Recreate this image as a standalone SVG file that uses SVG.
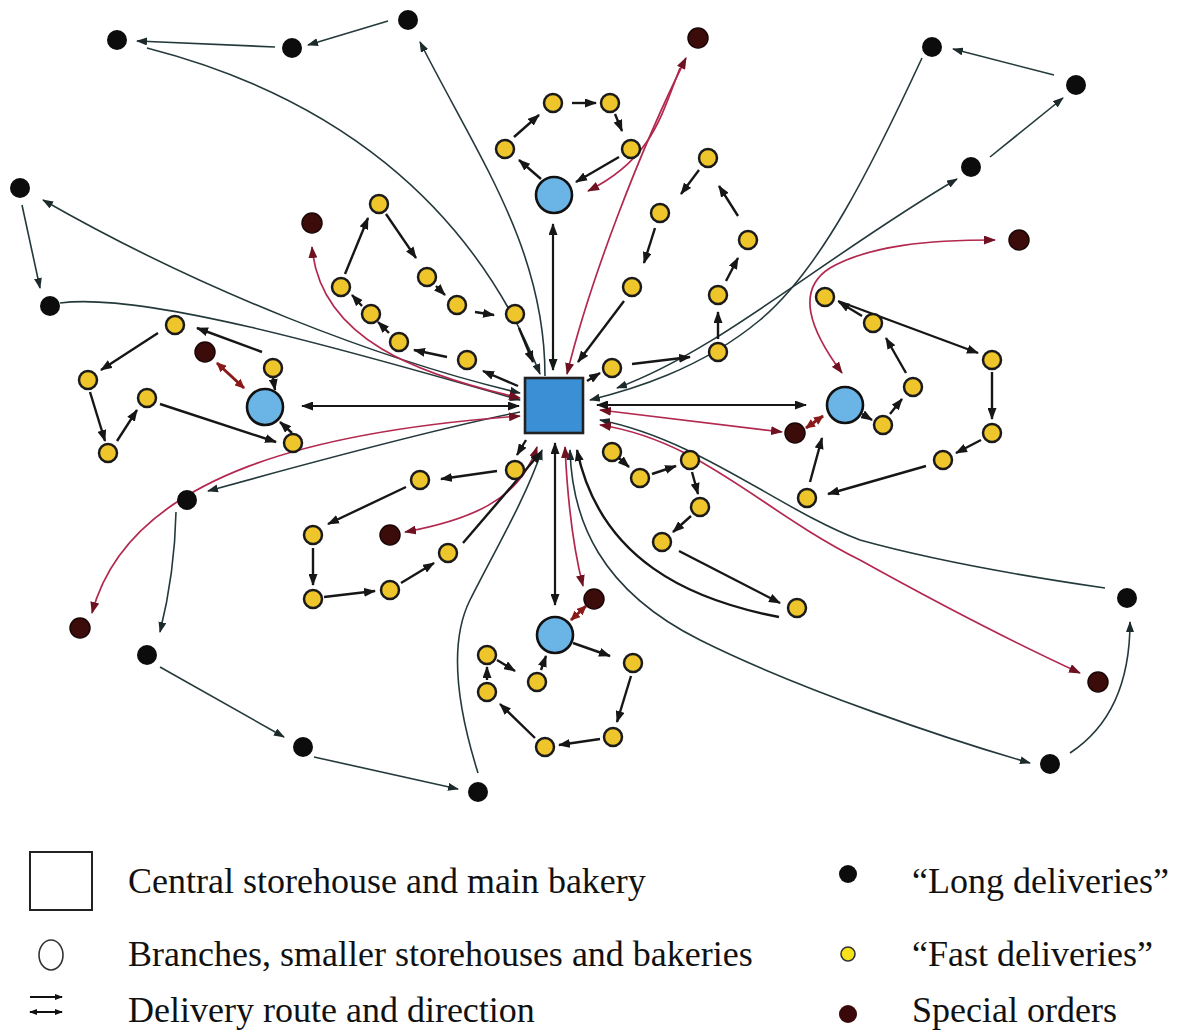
<svg xmlns="http://www.w3.org/2000/svg" width="1188" height="1032" viewBox="0 0 1188 1032">
<style>
.k{fill:none;stroke:#161616;stroke-width:2.4;marker-end:url(#ak)}
.kk{fill:none;stroke:#161616;stroke-width:2.2;marker-start:url(#ak);marker-end:url(#ak)}
.t{fill:none;stroke:#24393b;stroke-width:1.6}
.te{marker-end:url(#at)}
.ts{marker-start:url(#at)}
.r{fill:none;stroke:#b3284f;stroke-width:1.7;marker-start:url(#ar);marker-end:url(#ar)}
.rd{fill:none;stroke:#8a1a1a;stroke-width:3;marker-start:url(#ad);marker-end:url(#ad)}
.y{fill:#efc52c;stroke:#1a1a1a;stroke-width:2.5}
.b{fill:#0c0c0c}
.s{fill:#3c0c0a;stroke:#1a0505;stroke-width:1.5}
.br{fill:#6ab4e6;stroke:#111;stroke-width:2.6}
.lg{font-family:"Liberation Serif","Times New Roman",serif;font-size:36px;fill:#111}
</style>
<defs>
<marker id="ak" viewBox="0 0 12 9" refX="11" refY="4.5" markerWidth="12" markerHeight="9" markerUnits="userSpaceOnUse" orient="auto-start-reverse"><path d="M0,0 L12,4.5 L0,9 z" fill="#161616"/></marker>
<marker id="at" viewBox="0 0 11 8" refX="10" refY="4" markerWidth="11" markerHeight="8" markerUnits="userSpaceOnUse" orient="auto-start-reverse"><path d="M0,0 L11,4 L0,8 z" fill="#1c2a2c"/></marker>
<marker id="ar" viewBox="0 0 12 9" refX="11" refY="4.5" markerWidth="12" markerHeight="9" markerUnits="userSpaceOnUse" orient="auto-start-reverse"><path d="M0,0 L12,4.5 L0,9 z" fill="#6e1222"/></marker>
<marker id="ad" viewBox="0 0 10 9" refX="9" refY="4.5" markerWidth="10" markerHeight="9" markerUnits="userSpaceOnUse" orient="auto-start-reverse"><path d="M0,0 L10,4.5 L0,9 z" fill="#8a1a1a"/></marker>
<marker id="lk" viewBox="0 0 8 6" refX="7" refY="3" markerWidth="8" markerHeight="6" markerUnits="userSpaceOnUse" orient="auto-start-reverse"><path d="M0,0 L8,3 L0,6 z" fill="#111"/></marker>
</defs>
<rect width="1188" height="1032" fill="#fff"/>
<g id="connectors">
<path class="t te" d="M275,47 L137,41"/>
<path class="t te" d="M388,21 L308,45"/>
<path class="t te" d="M147,48 C330,95 470,200 540,374"/>
<path class="t ts" d="M420,42 C480,160 545,250 545,376"/>
<path class="t ts te" d="M43,200 C200,290 380,360 520,393"/>
<path class="t te" d="M22,205 L40,288"/>
<path class="t te" d="M60,303 C140,292 330,345 520,400"/>
<path class="t te" d="M520,412 C440,428 320,460 208,491"/>
<path class="t te" d="M176,512 C175,560 168,600 160,632"/>
<path class="t te" d="M160,667 L284,737"/>
<path class="t te" d="M314,757 L458,789"/>
<path class="t te" d="M478,773 C455,700 450,640 470,600 C495,550 525,500 542,450"/>
<path class="t ts te" d="M570,450 C572,520 600,590 700,640 C800,690 950,740 1030,763"/>
<path class="t te" d="M1070,753 C1105,730 1130,690 1130,622"/>
<path class="t te" d="M1105,588 C1050,580 950,565 860,540 C780,510 700,440 600,420"/>
<path class="t ts te" d="M617,388 C720,350 820,260 957,179"/>
<path class="t te" d="M990,157 L1063,98"/>
<path class="t te" d="M1054,75 L953,49"/>
<path class="t te" d="M922,58 C870,170 820,270 760,320 C700,370 630,390 590,400"/>
<path class="r" d="M567,374 C590,280 640,150 686,58"/>
<path class="r" style="marker-start:none" d="M680,68 C660,120 650,160 588,191"/>
<path class="r" d="M520,398 C420,375 320,340 312,247"/>
<path class="r" d="M520,416 C330,430 130,470 92,613"/>
<path class="r" d="M537,447 C520,500 470,520 405,532"/>
<path class="r" d="M565,447 C568,510 575,555 583,586"/>
<path class="r" d="M600,410 L782,432"/>
<path class="r" d="M600,425 C700,440 760,510 860,560 C950,610 1030,650 1080,673"/>
<path class="r" d="M842,373 C810,330 795,290 830,268 C870,245 930,240 995,240"/>
<path class="rd" d="M217,363 L244,388"/>
<path class="rd" d="M806,428 L823,416"/>
<path class="rd" d="M571,620 L586,606"/>
<path class="k" d="M541,179 L519,160"/>
<path class="k" d="M514,137 L539,115"/>
<path class="k" d="M572,103 L596,103"/>
<path class="k" d="M615,114 L622,131"/>
<path class="k" d="M619,157 L576,182"/>
<path class="kk" d="M553,224 L553,370"/>
<path class="k" d="M587,381 L600,373"/>
<path class="k" d="M632,364 L690,357"/>
<path class="k" d="M718,339 L718,312"/>
<path class="k" d="M726,281 L738,258"/>
<path class="k" d="M738,216 L719,186"/>
<path class="k" d="M699,170 L681,194"/>
<path class="k" d="M655,228 L644,263"/>
<path class="k" d="M624,301 L578,362"/>
<path class="k" d="M518,386 L483,371"/>
<path class="k" d="M447,357 L414,350"/>
<path class="k" d="M389,333 L378,322"/>
<path class="k" d="M362,306 L352,295"/>
<path class="k" d="M345,274 L368,218"/>
<path class="k" d="M386,214 L416,258"/>
<path class="k" d="M436,286 L445,295"/>
<path class="k" d="M475,312 L494,315"/>
<path class="k" d="M519,328 L533,362"/>
<path class="k" d="M262,352 L197,328"/>
<path class="k" d="M158,333 L101,370"/>
<path class="k" d="M90,392 L105,441"/>
<path class="k" d="M117,441 L137,410"/>
<path class="k" d="M160,404 L276,442"/>
<path class="k" d="M273,378 L275,390"/>
<path class="k" d="M292,433 L280,422"/>
<path class="kk" d="M302,406 L519,406"/>
<path class="kk" d="M597,405 L806,405"/>
<path class="k" d="M862,414 L872,420"/>
<path class="k" d="M890,414 L902,399"/>
<path class="k" d="M906,373 L886,338"/>
<path class="k" d="M862,316 L839,302"/>
<path class="k" d="M838,301 L978,353"/>
<path class="k" d="M992,372 L992,419"/>
<path class="k" d="M981,440 L956,453"/>
<path class="k" d="M926,466 L828,494"/>
<path class="k" d="M810,482 L822,438"/>
<path class="k" d="M526,440 L517,455"/>
<path class="k" d="M497,471 L441,479"/>
<path class="k" d="M406,487 L328,524"/>
<path class="k" d="M313,548 L313,585"/>
<path class="k" d="M324,597 L375,591"/>
<path class="k" d="M401,583 L434,563"/>
<path class="k" d="M463,543 L541,452"/>
<path class="k" d="M619,458 L629,467"/>
<path class="k" d="M652,474 L676,466"/>
<path class="k" d="M692,472 L698,494"/>
<path class="k" d="M691,516 L673,532"/>
<path class="k" d="M679,551 L780,603"/>
<path class="k" d="M779,617 C690,600 600,560 577,450"/>
<path class="kk" d="M555,443 L555,605"/>
<path class="k" d="M573,643 L610,656"/>
<path class="k" d="M631,676 L617,722"/>
<path class="k" d="M600,739 L559,745"/>
<path class="k" d="M535,738 L500,704"/>
<path class="k" d="M487,680 L487,667"/>
<path class="k" d="M497,660 L515,671"/>
<path class="k" d="M541,670 L546,656"/>
</g>
<g id="central"><rect x="525" y="378" width="58" height="55" fill="#3b8fd5" stroke="#222" stroke-width="2.6"/></g>
<g id="branch-top"><circle class="br" cx="554" cy="195" r="18"/></g>
<g id="branch-left"><circle class="br" cx="265" cy="407" r="18"/></g>
<g id="branch-right"><circle class="br" cx="845" cy="405" r="18"/></g>
<g id="branch-bottom"><circle class="br" cx="555" cy="635" r="18"/></g>
<g id="long-1"><circle class="b" cx="117" cy="40" r="10"/></g>
<g id="long-2"><circle class="b" cx="292" cy="48" r="10"/></g>
<g id="long-3"><circle class="b" cx="408" cy="20" r="10"/></g>
<g id="long-4"><circle class="b" cx="20" cy="188" r="10"/></g>
<g id="long-5"><circle class="b" cx="50" cy="306" r="10"/></g>
<g id="long-6"><circle class="b" cx="932" cy="47" r="10"/></g>
<g id="long-7"><circle class="b" cx="1076" cy="85" r="10"/></g>
<g id="long-8"><circle class="b" cx="971" cy="167" r="10"/></g>
<g id="long-9"><circle class="b" cx="187" cy="500" r="10"/></g>
<g id="long-10"><circle class="b" cx="147" cy="655" r="10"/></g>
<g id="long-11"><circle class="b" cx="303" cy="747" r="10"/></g>
<g id="long-12"><circle class="b" cx="478" cy="792" r="10"/></g>
<g id="long-13"><circle class="b" cx="1127" cy="598" r="10"/></g>
<g id="long-14"><circle class="b" cx="1050" cy="764" r="10"/></g>
<g id="special-1"><circle class="s" cx="698" cy="38" r="10"/></g>
<g id="special-2"><circle class="s" cx="312" cy="223" r="10"/></g>
<g id="special-3"><circle class="s" cx="1019" cy="240" r="10"/></g>
<g id="special-4"><circle class="s" cx="205" cy="352" r="10"/></g>
<g id="special-5"><circle class="s" cx="795" cy="433" r="10"/></g>
<g id="special-6"><circle class="s" cx="390" cy="535" r="10"/></g>
<g id="special-7"><circle class="s" cx="80" cy="628" r="10"/></g>
<g id="special-8"><circle class="s" cx="594" cy="599" r="10"/></g>
<g id="special-9"><circle class="s" cx="1098" cy="682" r="10"/></g>
<g id="fast-t1"><circle class="y" cx="553" cy="103" r="9"/></g>
<g id="fast-t2"><circle class="y" cx="610" cy="103" r="9"/></g>
<g id="fast-t3"><circle class="y" cx="631" cy="149" r="9"/></g>
<g id="fast-t4"><circle class="y" cx="505" cy="149" r="9"/></g>
<g id="fast-ur1"><circle class="y" cx="708" cy="158" r="9"/></g>
<g id="fast-ur2"><circle class="y" cx="660" cy="213" r="9"/></g>
<g id="fast-ur3"><circle class="y" cx="748" cy="240" r="9"/></g>
<g id="fast-ur4"><circle class="y" cx="632" cy="287" r="9"/></g>
<g id="fast-ur5"><circle class="y" cx="718" cy="295" r="9"/></g>
<g id="fast-ur6"><circle class="y" cx="718" cy="352" r="9"/></g>
<g id="fast-ur7"><circle class="y" cx="612" cy="368" r="9"/></g>
<g id="fast-ul1"><circle class="y" cx="379" cy="204" r="9"/></g>
<g id="fast-ul2"><circle class="y" cx="341" cy="287" r="9"/></g>
<g id="fast-ul3"><circle class="y" cx="371" cy="314" r="9"/></g>
<g id="fast-ul4"><circle class="y" cx="399" cy="342" r="9"/></g>
<g id="fast-ul5"><circle class="y" cx="467" cy="360" r="9"/></g>
<g id="fast-ul6"><circle class="y" cx="427" cy="277" r="9"/></g>
<g id="fast-ul7"><circle class="y" cx="457" cy="305" r="9"/></g>
<g id="fast-ul8"><circle class="y" cx="515" cy="314" r="9"/></g>
<g id="fast-l1"><circle class="y" cx="175" cy="325" r="9"/></g>
<g id="fast-l2"><circle class="y" cx="88" cy="380" r="9"/></g>
<g id="fast-l3"><circle class="y" cx="147" cy="398" r="9"/></g>
<g id="fast-l4"><circle class="y" cx="108" cy="453" r="9"/></g>
<g id="fast-l5"><circle class="y" cx="273" cy="368" r="9"/></g>
<g id="fast-l6"><circle class="y" cx="293" cy="443" r="9"/></g>
<g id="fast-r1"><circle class="y" cx="825" cy="297" r="9"/></g>
<g id="fast-r2"><circle class="y" cx="873" cy="323" r="9"/></g>
<g id="fast-r3"><circle class="y" cx="913" cy="387" r="9"/></g>
<g id="fast-r4"><circle class="y" cx="883" cy="425" r="9"/></g>
<g id="fast-r5"><circle class="y" cx="992" cy="360" r="9"/></g>
<g id="fast-r6"><circle class="y" cx="992" cy="433" r="9"/></g>
<g id="fast-r7"><circle class="y" cx="943" cy="460" r="9"/></g>
<g id="fast-r8"><circle class="y" cx="807" cy="498" r="9"/></g>
<g id="fast-ll1"><circle class="y" cx="515" cy="470" r="9"/></g>
<g id="fast-ll2"><circle class="y" cx="420" cy="480" r="9"/></g>
<g id="fast-ll3"><circle class="y" cx="313" cy="535" r="9"/></g>
<g id="fast-ll4"><circle class="y" cx="313" cy="599" r="9"/></g>
<g id="fast-ll5"><circle class="y" cx="390" cy="590" r="9"/></g>
<g id="fast-ll6"><circle class="y" cx="448" cy="553" r="9"/></g>
<g id="fast-lr1"><circle class="y" cx="612" cy="452" r="9"/></g>
<g id="fast-lr2"><circle class="y" cx="640" cy="478" r="9"/></g>
<g id="fast-lr3"><circle class="y" cx="690" cy="460" r="9"/></g>
<g id="fast-lr4"><circle class="y" cx="700" cy="507" r="9"/></g>
<g id="fast-lr5"><circle class="y" cx="662" cy="542" r="9"/></g>
<g id="fast-lr6"><circle class="y" cx="797" cy="608" r="9"/></g>
<g id="fast-b1"><circle class="y" cx="633" cy="663" r="9"/></g>
<g id="fast-b2"><circle class="y" cx="613" cy="737" r="9"/></g>
<g id="fast-b3"><circle class="y" cx="545" cy="747" r="9"/></g>
<g id="fast-b4"><circle class="y" cx="487" cy="655" r="9"/></g>
<g id="fast-b5"><circle class="y" cx="487" cy="692" r="9"/></g>
<g id="fast-b6"><circle class="y" cx="537" cy="682" r="9"/></g>
<g id="legend">
<rect x="30" y="852" width="62" height="58" fill="none" stroke="#222" stroke-width="2"/>
<text class="lg" x="128" y="893">Central storehouse and main bakery</text>
<ellipse cx="51" cy="955" rx="12" ry="15" fill="none" stroke="#333" stroke-width="1.6"/>
<text class="lg" x="128" y="966">Branches, smaller storehouses and bakeries</text>
<path d="M30,997 L62,997" stroke="#111" stroke-width="2" marker-end="url(#lk)"/>
<path d="M30,1012 L62,1012" stroke="#111" stroke-width="2" marker-start="url(#lk)" marker-end="url(#lk)"/>
<text class="lg" x="128" y="1022">Delivery route and direction</text>
<circle cx="848" cy="874" r="9" fill="#0c0c0c"/>
<text class="lg" x="912" y="893">“Long deliveries”</text>
<circle cx="848" cy="954" r="7" fill="#f6e21a" stroke="#333" stroke-width="1.6"/>
<text class="lg" x="912" y="966">“Fast deliveries”</text>
<circle cx="848" cy="1014" r="9" fill="#3a0808"/>
<text class="lg" x="912" y="1022">Special orders</text>
</g>
</svg>
